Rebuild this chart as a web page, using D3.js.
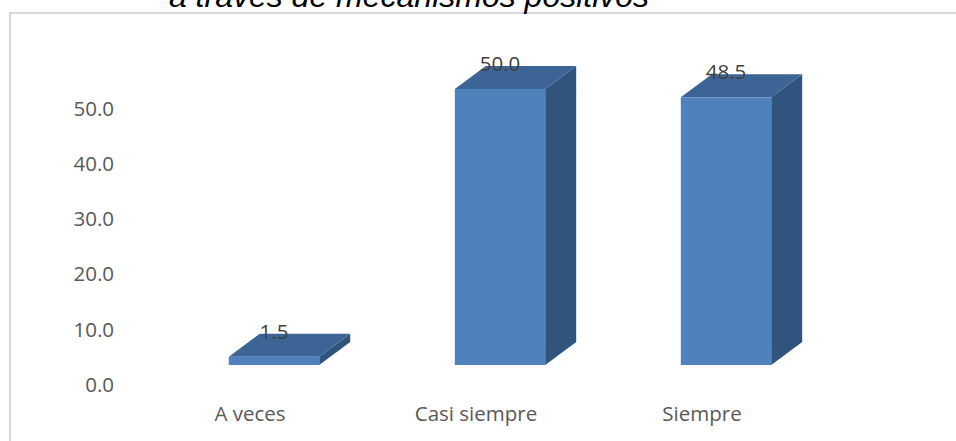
<!DOCTYPE html>
<html>
<head>
<meta charset="utf-8">
<script src="https://cdn.jsdelivr.net/npm/d3@7"></script>
<style>
  html, body { margin: 0; padding: 0; background: #fff; }
  svg { display: block; }
</style>
</head>
<body>
<svg id="chart" width="956" height="441"></svg>
<script>
// Data
const categories = ["A veces", "Casi siempre", "Siempre"];
const values = [1.5, 50.0, 48.5];
const tickValues = [0, 10, 20, 30, 40, 50];
const titleText = "a través de mecanismos positivos";

const svg = d3.select("#chart");
const W = 956, H = 441;

// Chart area frame
svg.append("rect")
  .attr("x", 10).attr("y", 13)
  .attr("width", W + 20).attr("height", H + 20)
  .attr("fill", "#fff")
  .attr("stroke", "#d9d9d9")
  .attr("stroke-width", 2);

// Title (upper part lies above the frame)
svg.append("text")
  .attr("x", 409).attr("y", 7)
  .attr("text-anchor", "middle")
  .attr("font-family", "'Liberation Sans', Arial, sans-serif")
  .attr("font-style", "italic")
  .attr("font-size", 32)
  .attr("fill", "#000")
  .text(titleText);

// Scales
const y = d3.scaleLinear().domain([0, 50]).range([384, 108]);
const x = d3.scaleBand().domain(categories).range([161, 839])
  .paddingInner(0.6).paddingOuter(0.3);

// 3D projection: front face sits below the axis plane, depth goes up-right
const frontShift = -19;
const depthX = 31, depthY = -23;

const font = "'Open Sans', 'Noto Sans', sans-serif";

// Value axis labels
const axis = d3.axisLeft(y).tickValues(tickValues).tickFormat(d3.format(".1f")).tickSize(0).tickPadding(0);
const axisG = svg.append("g").attr("transform", "translate(114,0)").call(axis);
axisG.select(".domain").remove();
axisG.selectAll("text")
  .attr("font-family", font)
  .attr("font-size", 20.5)
  .attr("fill", "#595959")
  .attr("dy", "0.36em");

// Bars
const bars = svg.append("g").selectAll("g").data(categories).join("g");

bars.each(function (c, i) {
  const g = d3.select(this);
  const x0 = x(c), x1 = x(c) + x.bandwidth();
  const yb = y(0) + frontShift;
  const yt = y(values[i]) + frontShift;

  // side face
  g.append("path")
    .attr("d", `M${x1},${yb} L${x1 + depthX},${yb + depthY} L${x1 + depthX},${yt + depthY} L${x1},${yt} Z`)
    .attr("fill", "#31547f");
  // top face
  g.append("path")
    .attr("d", `M${x0},${yt} L${x0 + depthX},${yt + depthY} L${x1 + depthX},${yt + depthY} L${x1},${yt} Z`)
    .attr("fill", "#3c6595");
  // front face
  g.append("rect")
    .attr("x", x0).attr("y", yt)
    .attr("width", x.bandwidth()).attr("height", yb - yt)
    .attr("fill", "#4f81bd");

  // value label
  g.append("text")
    .attr("x", x0 + x.bandwidth() / 2)
    .attr("y", yt + depthY + 5)
    .attr("text-anchor", "middle")
    .attr("font-family", font)
    .attr("font-size", 20.5)
    .attr("fill", "#404040")
    .text(d3.format(".1f")(values[i]));
});

// Category labels
svg.append("g").selectAll("text").data(categories).join("text")
  .attr("x", d => x(d) + x.bandwidth() / 2 - 24)
  .attr("y", 421)
  .attr("text-anchor", "middle")
  .attr("font-family", font)
  .attr("font-size", 20.5)
  .attr("fill", "#595959")
  .text(d => d);
</script>
</body>
</html>
